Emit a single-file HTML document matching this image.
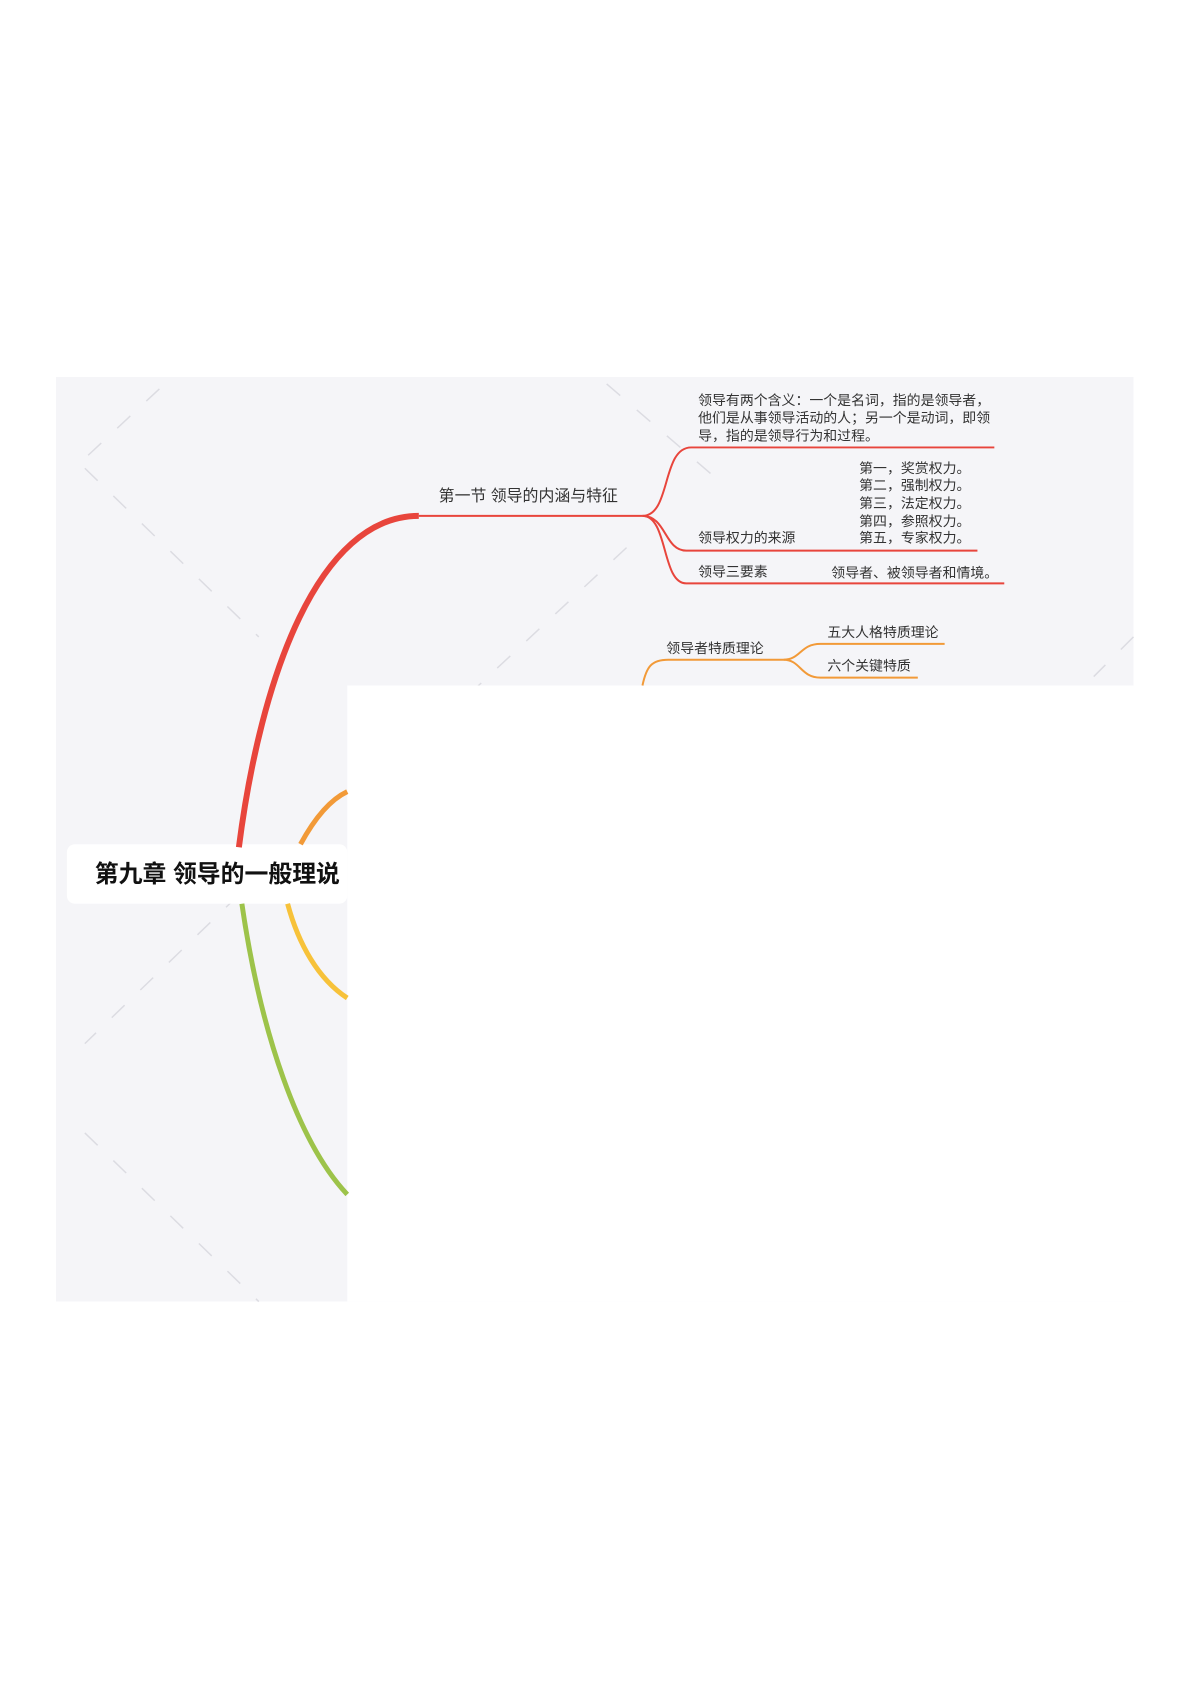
<!DOCTYPE html>
<html><head><meta charset="utf-8"><style>
body{margin:0;background:#fff;}
svg{display:block}
text{font-family:"Liberation Sans","Noto Sans CJK SC",sans-serif;fill:#333;}
</style></head><body>
<svg width="1191" height="1683" viewBox="0 0 1191 1683" xmlns="http://www.w3.org/2000/svg">
<g transform="translate(56,377) scale(0.994,0.992) translate(-56,-378)">
<rect x="56" y="378" width="1084" height="932" fill="#f5f5f8"/>
<g stroke="#dcdce2" stroke-width="1.5" stroke-dasharray="18,22">
<path d="M85,470 L260,640"/><path d="M85,1140 L260,1310"/><path d="M160,390 L85,460"/><path d="M240,900 L85,1050"/>
<path d="M610,385 L720,480"/><path d="M630,550 L480,690"/><path d="M1140,640 L1100,680"/>
</g>
<rect x="349" y="689" width="791" height="621" fill="#fff"/>
<rect x="67" y="849" width="282" height="60" rx="8" fill="#fff"/>
<text x="95" y="887" font-size="24" font-weight="bold" style="fill:#111">第九章  领导的一般理说</text>
<path d="M240,852 C262,680 320,518 421,518" stroke="#e8453c" stroke-width="6" fill="none"/>
<path d="M421,518 L646,518" stroke="#e8453c" stroke-width="2" fill="none"/>
<path d="M302,849 C315,825 330,805 349,796" stroke="#f29a38" stroke-width="5" fill="none"/>
<path d="M289,909 C300,950 320,985 349,1004" stroke="#f7c23a" stroke-width="5" fill="none"/>
<path d="M243,909 C262,1040 300,1150 349,1202" stroke="#9dc34a" stroke-width="5" fill="none"/>
<g stroke="#e8453c" stroke-width="2" fill="none">
<path d="M646,518 C675,518 665,449 695,449 L1000,449"/>
<path d="M646,518 C670,518 668,553 690,553 L983,553"/>
<path d="M646,518 C672,518 665,586 690,586 L1010,586"/>
</g>
<text x="441" y="503" font-size="16">第一节  领导的内涵与特征</text>
<g font-size="14">
<text x="702" y="406">领导有两个含义：一个是名词，指的是领导者，</text>
<text x="702" y="424">他们是从事领导活动的人；另一个是动词，即领</text>
<text x="702" y="442">导，指的是领导行为和过程。</text>
<text x="864" y="475">第一，奖赏权力。</text>
<text x="864" y="492">第二，强制权力。</text>
<text x="864" y="510">第三，法定权力。</text>
<text x="864" y="528">第四，参照权力。</text>
<text x="864" y="545">第五，专家权力。</text>
<text x="702" y="545">领导权力的来源</text>
<text x="702" y="579">领导三要素</text>
<text x="836" y="580">领导者、被领导者和情境。</text>
<text x="670" y="656">领导者特质理论</text>
<text x="832" y="640">五大人格特质理论</text>
<text x="832" y="674">六个关键特质</text>
</g>
<g stroke="#f29a38" stroke-width="2" fill="none">
<path d="M646,689 C650,670 655,663 672,663 L788,663"/>
<path d="M788,663 C805,663 805,647 825,647 L950,647"/>
<path d="M788,663 C805,663 805,681 825,681 L923,681"/>
</g>
</g>
</svg>
</body></html>
